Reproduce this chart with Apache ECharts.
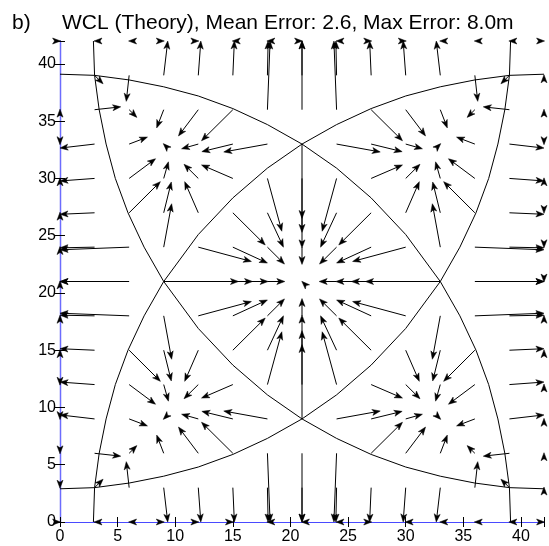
<!DOCTYPE html>
<html>
<head>
<meta charset="utf-8">
<script src="https://cdn.jsdelivr.net/npm/echarts@6/dist/echarts.min.js"></script>
<style>
html,body{margin:0;padding:0;background:#fff;}
#chart{width:549px;height:546px;}
</style>
</head>
<body>
<div id="chart"></div>
<script>
// grid columns (x) and rows (y) of the true positions
const gridX = [0,3,6,9,12,15,18,21,24,27,30,33,36,39,42];
const tickLabels = [0,5,10,15,20,25,30,35,40];

// estimated positions [x, y] for each grid point, one array per row (true y)
const est42 = [[0.05,42],[2.95,42],[5.95,42],[9.05,42],[12.05,42],[14.95,42],[17.95,42],[21.05,42],[23.95,42],[27.05,42],[30.05,42],[32.95,42],[35.95,42],[38.95,42],[42.05,42]];
const est39 = [[0,39],[3.74,38.26],[5.75,36.73],[9.35,42],[12.22,42],[15.13,42],[18.06,42],[21,42],[23.94,42],[26.87,42],[29.78,42],[32.65,42],[36.25,36.73],[38.26,38.26],[42,39.05]];
const est36 = [[0,36.05],[5.27,36.25],[6.67,35.33],[8.39,34.41],[10.28,33.71],[12.28,33.29],[18.23,42],[21,42],[23.77,42],[29.72,33.29],[31.72,33.71],[33.61,34.41],[35.33,35.33],[36.73,36.25],[42,36.05]];
const est33 = [[0,32.95],[0,32.65],[7.59,33.61],[8.96,33.04],[10.55,32.59],[12.31,32.34],[14.21,32.31],[21,26.51],[27.79,32.31],[29.69,32.34],[31.45,32.59],[33.04,33.04],[34.41,33.61],[42,32.65],[42,32.95]];
const est30 = [[0,30.05],[0,29.78],[8.29,31.72],[9.41,31.45],[10.76,31.24],[12.28,31.18],[19.25,25.39],[21,25.29],[22.75,25.39],[29.72,31.18],[31.24,31.24],[32.59,31.45],[33.71,31.72],[42,29.78],[42,30.05]];
const est27 = [[0,27.05],[0,26.87],[8.71,29.72],[9.66,29.69],[10.82,29.72],[17.81,24.19],[19.39,24.0],[21,23.94],[22.61,24.0],[24.19,24.19],[31.18,29.72],[32.34,29.69],[33.29,29.72],[42,26.87],[42,26.95]];
const est24 = [[0,24.05],[0,23.94],[0,23.77],[9.69,27.79],[16.61,22.75],[18.0,22.61],[19.48,22.52],[21,22.49],[22.52,22.52],[24.0,22.61],[25.39,22.75],[32.31,27.79],[42,23.77],[42,23.94],[42,23.95]];
const est21 = [[0,21.05],[0,21],[0,21],[15.49,21],[16.71,21],[18.06,21],[19.51,21],[20.98,21.02],[22.49,21],[23.94,21],[25.29,21],[26.51,21],[42,21],[42,21],[42,20.95]];
const est18 = [[0,18.05],[0,18.06],[0,18.23],[9.69,14.21],[16.61,19.25],[18.0,19.39],[19.48,19.48],[21,19.51],[22.52,19.48],[24.0,19.39],[25.39,19.25],[32.31,14.21],[42,18.23],[42,18.06],[42,18.05]];
const est15 = [[0,15.05],[0,15.13],[8.71,12.28],[9.66,12.31],[10.82,12.28],[17.81,17.81],[19.39,18.0],[21,18.06],[22.61,18.0],[24.19,17.81],[31.18,12.28],[32.34,12.31],[33.29,12.28],[42,15.13],[42,15.05]];
const est12 = [[0,11.95],[0,12.22],[8.29,10.28],[9.41,10.55],[10.76,10.76],[12.28,10.82],[19.25,16.61],[21,16.71],[22.75,16.61],[29.72,10.82],[31.24,10.76],[32.59,10.55],[33.71,10.28],[42,12.22],[42,12.05]];
const est9  = [[0,8.95],[0,9.35],[7.59,8.39],[8.96,8.96],[10.55,9.41],[12.31,9.66],[14.21,9.69],[21,15.49],[27.79,9.69],[29.69,9.66],[31.45,9.41],[33.04,8.96],[34.41,8.39],[42,9.35],[42,9.05]];
const est6  = [[0,5.95],[5.27,5.75],[6.67,6.67],[8.39,7.59],[10.28,8.29],[12.28,8.71],[18.23,0],[21,0],[23.77,0],[29.72,8.71],[31.72,8.29],[33.61,7.59],[35.33,6.67],[36.73,5.75],[42,6.05]];
const est3  = [[0,2.95],[3.74,3.74],[5.75,5.27],[9.35,0],[12.22,0],[15.13,0],[18.06,0],[21,0],[23.94,0],[26.87,0],[29.78,0],[32.65,0],[36.25,5.27],[38.26,3.74],[42,3.05]];
const est0  = [[0.05,0],[2.95,0],[5.95,0],[9.05,0],[12.05,0],[15.05,0],[17.95,0],[20.95,0],[23.95,0],[27.05,0],[29.95,0],[32.95,0],[35.95,0],[38.95,0],[42.05,0]];

const rows = [[42,est42],[39,est39],[36,est36],[33,est33],[30,est30],[27,est27],[24,est24],[21,est21],[18,est18],[15,est15],[12,est12],[9,est9],[6,est6],[3,est3],[0,est0]];

// boundary arcs
const arcA = [[0,39.1],[3,39.0],[6,38.6],[9,38.0],[12,37.2],[15,36.1],[18,34.7],[21,33.0],[24,30.9],[27,28.3],[30,25.1],[33,21.0],[34.7,18],[36.1,15],[37.2,12],[38.0,9],[38.6,6],[39.0,3],[39.1,0]];
const arcB = [[0,2.9],[3,3.0],[6,3.4],[9,4.0],[12,4.8],[15,5.9],[18,7.3],[21,9.0],[24,11.1],[27,13.7],[30,16.9],[33,21.0],[34.7,24],[36.1,27],[37.2,30],[38.0,33],[38.6,36],[39.0,39],[39.1,42]];
const arcC = [[42,2.9],[39,3.0],[36,3.4],[33,4.0],[30,4.8],[27,5.9],[24,7.3],[21,9.0],[18,11.1],[15,13.7],[12,16.9],[9,21.0],[7.3,24],[5.9,27],[4.8,30],[4.0,33],[3.4,36],[3.0,39],[2.9,42]];
const arcD = [[42,39.1],[39,39.0],[36,38.6],[33,38.0],[30,37.2],[27,36.1],[24,34.7],[21,33.0],[18,30.9],[15,28.3],[12,25.1],[9,21.0],[7.3,18],[5.9,15],[4.8,12],[4.0,9],[3.4,6],[3.0,3],[2.9,0]];

const arrowData = [];
rows.forEach(function (r) {
  const y = r[0], est = r[1];
  gridX.forEach(function (x, i) { arrowData.push([x, y, est[i][0], est[i][1]]); });
});

const FONT = '"Liberation Sans", Arial, Helvetica, sans-serif';

function renderArrow(params, api) {
  const p0 = api.coord([api.value(0), api.value(1)]);
  const p1 = api.coord([api.value(2), api.value(3)]);
  const dx = p1[0] - p0[0], dy = p1[1] - p0[1];
  const len = Math.sqrt(dx * dx + dy * dy);
  if (len < 1e-6) return { type: 'group', children: [] };
  const ux = dx / len, uy = dy / len, nx = -uy, ny = ux;
  const L = 8, W = 3, N = 6;
  const bx = p1[0] - L * ux, by = p1[1] - L * uy;
  const children = [];
  if (len > 1) {
    children.push({ type: 'line', shape: { x1: p0[0], y1: p0[1], x2: p1[0] - 2 * ux, y2: p1[1] - 2 * uy },
      style: { stroke: '#000', lineWidth: 1 } });
  }
  children.push({ type: 'polygon', shape: { points: [
      [p1[0], p1[1]], [bx + W * nx, by + W * ny], [p1[0] - N * ux, p1[1] - N * uy], [bx - W * nx, by - W * ny]] },
    style: { fill: '#000', stroke: '#000', lineWidth: 0.5 } });
  return { type: 'group', children: children };
}

const blueDark = '#1414d2';
const blueTop = '#4a4aff';
const blueRight = '#6c6cff';
const labelStyle = { color: '#000', fontSize: 16, fontFamily: FONT };

function arcSeries(pts) {
  return { type: 'line', data: pts, xAxisIndex: 0, yAxisIndex: 0, symbol: 'none', smooth: false,
    clip: false, silent: true, lineStyle: { color: '#000', width: 1 }, z: 3 };
}

const chart = echarts.init(document.getElementById('chart'), null, { renderer: 'canvas' });
chart.setOption({
  animation: false,
  backgroundColor: '#fff',
  grid: { left: 60, right: 5, top: 41, bottom: 24, containLabel: false },
  graphic: [
    { type: 'text', x: 12, y: 23.6, style: { text: 'b)', fontSize: 21, fontFamily: FONT, fill: '#000', verticalAlign: 'middle' } },
    { type: 'text', x: 62, y: 23.6, style: { text: 'WCL (Theory), Mean Error: 2.6, Max Error: 8.0m', fontSize: 21, fontFamily: FONT, fill: '#000', verticalAlign: 'middle' } }
  ],
  xAxis: [
    { type: 'value', min: 0, max: 42, interval: 5, position: 'bottom',
      axisLine: { show: true, lineStyle: { color: blueDark, width: 1.2 } },
      axisTick: { show: true, inside: true, length: 5, lineStyle: { color: '#000' } },
      axisLabel: Object.assign({ margin: 7, formatter: function (v) { return tickLabels.indexOf(v) >= 0 ? String(v) : ''; } }, labelStyle),
      splitLine: { show: false } },
    { type: 'value', min: 0, max: 42, interval: 5, position: 'top',
      axisLine: { show: true, lineStyle: { color: blueTop, width: 1.2 } },
      axisTick: { show: true, inside: true, length: 5, lineStyle: { color: '#000' } },
      axisLabel: { show: false }, splitLine: { show: false } }
  ],
  yAxis: [
    { type: 'value', min: 0, max: 42, interval: 5, position: 'left',
      axisLine: { show: true, lineStyle: { color: blueDark, width: 1.2 } },
      axisTick: { show: true, inside: true, length: 5, lineStyle: { color: '#000' } },
      axisLabel: Object.assign({ margin: 4, formatter: function (v) { return tickLabels.indexOf(v) >= 0 ? String(v) : ''; } }, labelStyle),
      splitLine: { show: false } },
    { type: 'value', min: 0, max: 42, interval: 5, position: 'right',
      axisLine: { show: true, lineStyle: { color: blueRight, width: 1.2 } },
      axisTick: { show: true, inside: true, length: 5, lineStyle: { color: '#000' } },
      axisLabel: { show: false }, splitLine: { show: false } }
  ],
  series: [
    arcSeries(arcA), arcSeries(arcB), arcSeries(arcC), arcSeries(arcD),
    { type: 'custom', xAxisIndex: 0, yAxisIndex: 0, data: arrowData, renderItem: renderArrow,
      encode: { x: [0, 2], y: [1, 3] }, clip: false, silent: true, z: 4 }
  ]
});
</script>
</body>
</html>
